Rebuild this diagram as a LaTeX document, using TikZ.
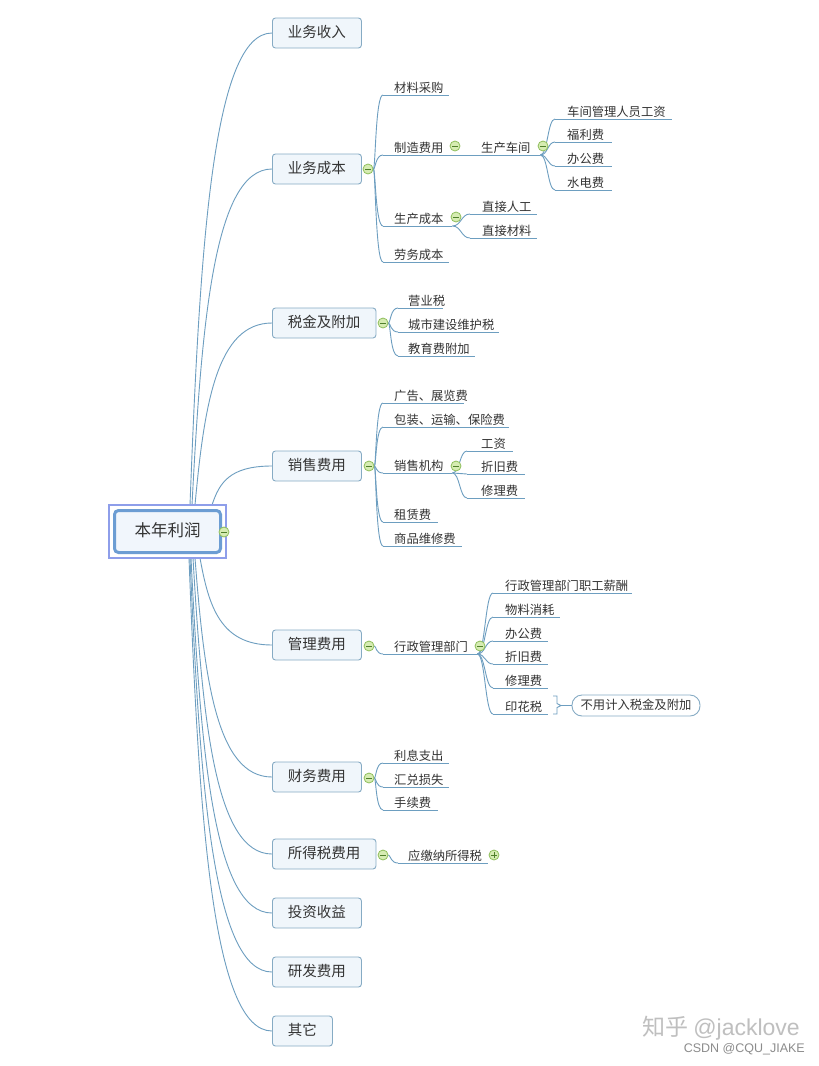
\documentclass[tikz,border=0pt]{standalone}
\usepackage{fontspec}
\setmainfont{Noto Sans CJK SC}
\newfontfamily\wmfont{Liberation Sans}
\usetikzlibrary{calc}
\definecolor{lnc}{HTML}{6D9EC0}
\definecolor{boxc}{HTML}{86ABC4}
\definecolor{boxf}{HTML}{F0F6FB}
\definecolor{txt}{HTML}{333333}
\definecolor{gbd}{HTML}{8FBE5C}
\definecolor{gfill}{HTML}{D6ECB2}
\definecolor{gsg}{HTML}{4F7F2A}
\definecolor{rootout}{HTML}{8E9EEA}
\definecolor{rootin}{HTML}{6C9DD3}
\definecolor{rootf}{HTML}{F1F6FC}
\pgfdeclarelayer{bg}
\pgfsetlayers{bg,main}
\tikzset{
  lk/.style={draw=lnc, line width=0.9pt},
  br/.style={to path={.. controls ($(\tikztostart)!0.55!(\tikztostart|-\tikztotarget) + 0.12*(\tikztotarget) - 0.12*(\tikztostart|-\tikztotarget)$) and ($(\tikztotarget)!0.72!(\tikztotarget-|\tikztostart)$) .. (\tikztotarget)}},
  sb/.style={to path={.. controls ($(\tikztostart)!0.5!(\tikztostart-|\tikztotarget)$) and ($(\tikztotarget)!0.5!(\tikztotarget-|\tikztostart)$) .. (\tikztotarget)}},
  lvl/.style={draw=boxc, fill=boxf, rounded corners=3pt, line width=0.9pt, minimum height=30pt, inner xsep=15.5pt, inner ysep=0pt, text height=12pt, text depth=2.5pt, font=\fontsize{14.5}{14.5}\selectfont, text=txt, anchor=west},
  leafst/.style={anchor=south west, inner sep=0pt, text height=10pt, text depth=2.5pt, font=\fontsize{12.3}{12.3}\selectfont, text=txt},
  mn/.style={circle, draw=gbd, fill=gfill, line width=0.8pt, minimum size=10pt, inner sep=0pt,
    path picture={\draw[gsg, line width=0.9pt] ([xshift=-2.8pt]path picture bounding box.center) -- ([xshift=2.8pt]path picture bounding box.center);}},
  pl/.style={circle, draw=gbd, fill=gfill, line width=0.8pt, minimum size=10pt, inner sep=0pt,
    path picture={\draw[gsg, line width=0.9pt] ([xshift=-2.8pt]path picture bounding box.center) -- ([xshift=2.8pt]path picture bounding box.center) ([yshift=-2.8pt]path picture bounding box.center) -- ([yshift=2.8pt]path picture bounding box.center);}},
  callst/.style={draw=boxc, fill=white, line width=0.9pt, rounded corners=10pt, minimum width=128pt, minimum height=21pt, inner sep=0pt, text height=10pt, text depth=2.5pt, font=\fontsize{12.3}{12.3}\selectfont, text=txt}
}
\newcommand\lfnode[6]{%
  \node[leafst] (#1) at (#2,#3) {\makebox[\dimexpr#4pt-#2pt\relax][l]{\hspace*{\dimexpr#5pt-#2pt\relax}#6}};
  \draw[lk] (#1.south west) -- (#1.south east);}
\begin{document}
\begin{tikzpicture}[x=1pt,y=-1pt]
\useasboundingbox (0,0) rectangle (819,1066);
\begin{pgfonlayer}{bg}
\fill[white] (0,0) rectangle (819,1066);
\end{pgfonlayer}
% root
\draw[line width=3pt, draw=rootin, fill=rootf, rounded corners=4pt] (114.5,510.5) rectangle (220.5,552.5);
\node[draw=rootout, line width=1.2pt, minimum width=117pt, minimum height=53pt, inner sep=0pt, text height=13pt, text depth=3pt, font=\fontsize{16.5}{16.5}\selectfont, text=txt] (root) at (167.5,531.5) {本年利润};
\node[mn] (c0) at (224,532) {};
% level 1
\node[lvl] (n1) at (272,33) {业务收入};
\node[lvl] (n2) at (272,169) {业务成本};
\node[lvl] (n3) at (272,323) {税金及附加};
\node[lvl] (n4) at (272,466) {销售费用};
\node[lvl] (n5) at (272,645) {管理费用};
\node[lvl] (n6) at (272,777) {财务费用};
\node[lvl] (n7) at (272,854) {所得税费用};
\node[lvl] (n8) at (272,913) {投资收益};
\node[lvl] (n9) at (272,972) {研发费用};
\node[lvl] (n10) at (272,1031) {其它};
% start points on root
\coordinate (s1) at (190,505);
\coordinate (s2) at (192,505);
\coordinate (s3) at (195,505);
\coordinate (s4) at (212,505);
\coordinate (s5) at (200,558);
\coordinate (s6) at (195,558);
\coordinate (s7) at (193,558);
\coordinate (s8) at (191,558);
\coordinate (s9) at (190,558);
\coordinate (s10) at (189,558);
% 业务成本
\lfnode{cl}{383}{95}{449}{394}{材料采购}
\lfnode{zz}{383}{155}{452}{394}{制造费用}
\lfnode{scj}{452}{155}{540}{481}{生产车间}
\lfnode{g1}{555}{119}{672}{567}{车间管理人员工资}
\lfnode{g2}{555}{142}{612}{567}{福利费}
\lfnode{g3}{555}{166}{612}{567}{办公费}
\lfnode{g4}{555}{190}{612}{567}{水电费}
\lfnode{sc}{383}{226}{452}{394}{生产成本}
\lfnode{sca}{470}{214}{537}{482}{直接人工}
\lfnode{scb}{470}{238}{537}{482}{直接材料}
\lfnode{lw}{383}{262}{449}{394}{劳务成本}
% 税金及附加
\lfnode{t1}{398}{308}{443}{408}{营业税}
\lfnode{t2}{398}{332}{499}{408}{城市建设维护税}
\lfnode{t3}{398}{356}{475}{408}{教育费附加}
% 销售费用
\lfnode{x1}{383}{403}{464}{394}{广告、展览费}
\lfnode{x2}{383}{427}{509}{394}{包装、运输、保险费}
\lfnode{xs}{383}{473}{452}{394}{销售机构}
\lfnode{xsa}{467}{451}{513}{481}{工资}
\lfnode{xsb}{467}{474}{525}{481}{折旧费}
\lfnode{xsc}{467}{498}{525}{481}{修理费}
\lfnode{x4}{383}{522}{438}{394}{租赁费}
\lfnode{x5}{383}{546}{462}{394}{商品维修费}
% 管理费用
\lfnode{xz}{383}{654}{477}{394}{行政管理部门}
\lfnode{m1}{493}{593}{632}{505}{行政管理部门职工薪酬}
\lfnode{m2}{493}{617}{560}{505}{物料消耗}
\lfnode{m3}{493}{641}{548}{505}{办公费}
\lfnode{m4}{493}{664}{548}{505}{折旧费}
\lfnode{m5}{493}{688}{548}{505}{修理费}
\lfnode{m6}{493}{714}{548}{505}{印花税}
\node[callst] (bz) at (636,705.5) {不用计入税金及附加};
\draw[lk] (553,696) -- (557,696) -- (557,703.5) -- (561,705.5) -- (557,707.5) -- (557,714) -- (553,714);
\coordinate (bt) at (561,705.5);
\draw[lk] (bt) -- (bz.west);
% 财务费用
\lfnode{f1}{383}{763}{449}{394}{利息支出}
\lfnode{f2}{383}{787}{449}{394}{汇兑损失}
\lfnode{f3}{383}{810}{438}{394}{手续费}
% 所得税费用
\lfnode{sd}{398}{863}{488}{408}{应缴纳所得税}
% circles
\node[mn] (c2) at (368,169) {};
\node[mn] (c3) at (383,323) {};
\node[mn] (c4) at (369,466) {};
\node[mn] (c5) at (369,646) {};
\node[mn] (c6) at (369,778) {};
\node[mn] (c7) at (383,855) {};
\node[mn] (zzc) at (455,146) {};
\node[mn] (scjc) at (543,146) {};
\node[mn] (scc) at (456,217) {};
\node[mn] (xsci) at (456,466) {};
\node[mn] (xzc) at (480,646) {};
\node[pl] (pc) at (494,855) {};
% watermark
\node[anchor=east, text=black!25, inner sep=0pt, font=\fontsize{23}{23}\selectfont] (wm1) at (800,1028) {知乎 {\wmfont @jacklove}};
\node[anchor=east, text=black!45, inner sep=0pt, font=\wmfont\fontsize{12.5}{12.5}\selectfont] (wm2) at (805,1049) {CSDN @CQU\_JIAKE};
% connectors
\begin{pgfonlayer}{bg}
\draw[lk] (s1) to[br] (n1.west);
\draw[lk] (s2) to[br] (n2.west);
\draw[lk] (s3) to[br] (n3.west);
\draw[lk] (s4) to[br] (n4.west);
\draw[lk] (s5) to[br] (n5.west);
\draw[lk] (s6) to[br] (n6.west);
\draw[lk] (s7) to[br] (n7.west);
\draw[lk] (s8) to[br] (n8.west);
\draw[lk] (s9) to[br] (n9.west);
\draw[lk] (s10) to[br] (n10.west);
\foreach \t in {cl,zz,sc,lw} \draw[lk] (c2) to[sb] (\t.south west);
\foreach \t in {g1,g2,g3,g4} \draw[lk] (scj.south east) to[sb] (\t.south west);
\foreach \t in {sca,scb} \draw[lk] (sc.south east) to[sb] (\t.south west);
\foreach \t in {t1,t2,t3} \draw[lk] (c3) to[sb] (\t.south west);
\foreach \t in {x1,x2,xs,x4,x5} \draw[lk] (c4) to[sb] (\t.south west);
\foreach \t in {xsa,xsb,xsc} \draw[lk] (xs.south east) to[sb] (\t.south west);
\draw[lk] (c5) to[sb] (xz.south west);
\foreach \t in {m1,m2,m3,m4,m5,m6} \draw[lk] (xz.south east) to[sb] (\t.south west);
\foreach \t in {f1,f2,f3} \draw[lk] (c6) to[sb] (\t.south west);
\draw[lk] (c7) to[sb] (sd.south west);
\end{pgfonlayer}
\end{tikzpicture}
\end{document}
